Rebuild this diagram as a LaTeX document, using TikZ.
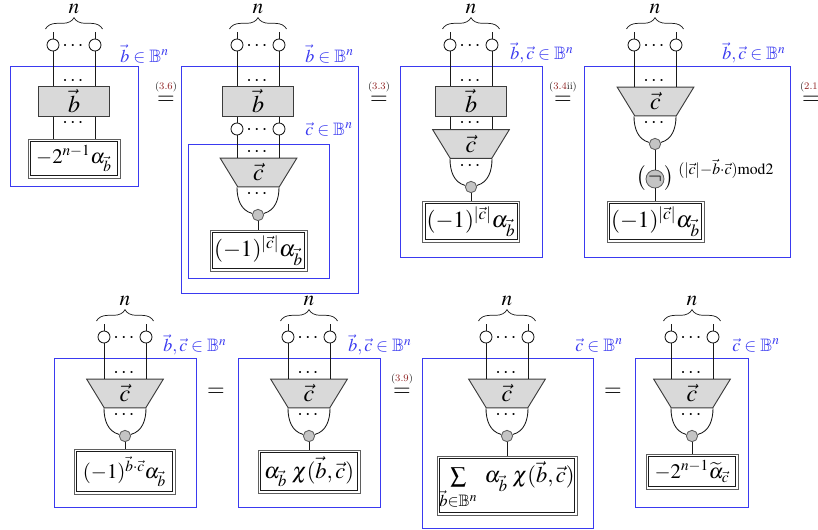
\documentclass[tikz,border=0pt]{standalone}
\usepackage{amsmath,amssymb}
\usepackage{mathptmx}
\usetikzlibrary{positioning, calc, shapes.geometric, decorations.pathreplacing}
\definecolor{c1}{HTML}{1A1A1A}
\definecolor{c2}{HTML}{3A3AF0}
\definecolor{c3}{HTML}{D9D9D9}
\definecolor{c4}{HTML}{C4C4C4}
\definecolor{c5}{HTML}{8E1F1F}

% top of a diagram: n, brace, two open dots with their free wires
\newcommand{\headrow}[3]{%
    \node[nlab] (#1n) at (#2, #3+8.5) {$n$};
    \draw[brc] (#2-28.5, #3+29) -- (#2+28.5, #3+29);
    \coordinate (#1s) at (#2-21, #3+32);
    \coordinate (#1t) at (#2+21, #3+32);
    \node[wht] (#1l) at (#2-21, #3+45) {};
    \node[wht] (#1r) at (#2+21, #3+45) {};
    \node[dts] (#1d) at (#2, #3+45) {$\cdots$};
    \draw[wire] (#1s) -- (#1l);
    \draw[wire] (#1t) -- (#1r);
}
% two wires joining in the grey dot, stem into the double box
\newcommand{\fanin}[3]{%
    \draw[wire] (#1l |- #2.south) to[out=-90, in=165] (#1g);
    \draw[wire] (#1r |- #2.south) to[out=-90, in=15] (#1g);
    \draw[wire] (#1g) -- (#1g |- #3.north);
}
% equals sign with a reference above it
\newcommand{\eqsign}[5]{%
    \node[eqs] (#1) at (#2, #3) {$=$};
    \node[eqlab] (#1r) at (#2, #3-13) {(\textcolor{c5}{#4}#5)};
}

\begin{document}
\begin{tikzpicture}[
    x=0.75pt, y=-0.75pt,
    every node/.style={font=\fontsize{15.5}{19}\selectfont},
    wire/.style={line width=0.65pt, color=c1},
    brc/.style={line width=0.55pt, color=c1, decorate, decoration={brace, amplitude=8.5pt}},
    nlab/.style={font=\fontsize{16}{19}\selectfont, inner sep=0pt},
    wht/.style={circle, draw=c1, fill=white, line width=0.65pt, minimum size=9pt, inner sep=0pt},
    gry/.style={circle, draw=c1!70, fill=c4, line width=0.65pt, minimum size=8.5pt, inner sep=0pt},
    dts/.style={inner sep=0pt, font=\fontsize{15}{17}\selectfont, yshift=-1pt},
    blu/.style={draw=c2, line width=0.7pt},
    set/.style={text=c2, inner sep=0pt, font=\fontsize{13.5}{16}\selectfont},
    blk/.style={rectangle, draw=c1!85, fill=c3, line width=0.8pt, minimum width=53pt, minimum height=23pt, inner sep=0pt,
        font=\fontsize{18}{21}\selectfont},
    trp/.style={trapezium, shape border rotate=180, trapezium stretches=true, trapezium left angle=75.5,
        trapezium right angle=75.5, draw=c1!85, fill=c3, line width=0.7pt,
        minimum width=57.5pt, minimum height=21.5pt, inner sep=0pt, font=\fontsize{18}{21}\selectfont},
    dbl/.style={rectangle, draw=c1!70, line width=0.7pt, fill=white, inner sep=0pt,
        path picture={\draw[line width=0.6pt, c1]
            ($(path picture bounding box.north west)+(1.9pt,-1.9pt)$) rectangle
            ($(path picture bounding box.south east)+(-1.9pt,1.9pt)$);}},
    big/.style={font=\fontsize{17.3}{21}\selectfont},
    mid/.style={font=\fontsize{16.8}{20}\selectfont},
    eqs/.style={inner sep=0pt, font=\fontsize{17}{20}\selectfont},
    eqlab/.style={inner sep=0pt, font=\fontsize{7.5}{9}\selectfont, text=c1},
]
\useasboundingbox (0,0) rectangle (818,529);

% ================================================================ first row
\draw[blu] (10.5,66) rectangle (138,186);
\headrow{a}{74}{0}
\node[blk] (ab) at (74,101.5) {$\vec{b}$};
\node[dbl, minimum width=69pt, minimum height=29.25pt] (ax) at (74,158.5) {$-2^{n-1}\alpha_{\vec{b}}$};
\node[dts] (ad1) at (74,80) {$\cdots$};
\node[dts] (ad2) at (74,122) {$\cdots$};
\foreach \s in {l,r}{
    \draw[wire] (a\s) -- (a\s |- ab.north);
    \draw[wire] (a\s |- ab.south) -- (a\s |- ax.north);
}
\node[set, anchor=west] (as) at (120,54) {$\vec{b}\in\mathbb{B}^{n}$};
\eqsign{e1}{166}{100}{3.6}{}

\draw[blu] (181,66) rectangle (358,293);
\draw[blu] (188,144) rectangle (329,278);
\headrow{b}{258}{0}
\node[blk] (bb) at (258,101.5) {$\vec{b}$};
\node[wht] (bl2) at (237,129) {};
\node[wht] (br2) at (279,129) {};
\node[dts] (bd2) at (258,129) {$\cdots$};
\node[trp] (bc) at (258.5,172.5) {$\vec{c}$};
\node[gry] (bg) at (258,215) {};
\node[dbl, big, minimum width=72.75pt, minimum height=30.75pt] (bx) at (258.5,250.5) {$(-1)^{|\vec{c}|}\alpha_{\vec{b}}$};
\node[dts] (bd1) at (258,80) {$\cdots$};
\node[dts] (bd3) at (258,151) {$\cdots$};
\node[dts] (bd4) at (258,193) {$\cdots$};
\foreach \s in {l,r}{
    \draw[wire] (b\s) -- (b\s |- bb.north);
    \draw[wire] (b\s |- bb.south) -- (b\s2);
    \draw[wire] (b\s2) -- (b\s2 |- bc.north);
}
\fanin{b}{bc}{bx}
\node[set, anchor=west] (bs1) at (305,54) {$\vec{b}\in\mathbb{B}^{n}$};
\node[set, anchor=west] (bs2) at (305,129) {$\vec{c}\in\mathbb{B}^{n}$};
\eqsign{e2}{379}{100}{3.3}{}

\draw[blu] (400,66) rectangle (542,257);
\headrow{c}{471}{0}
\node[blk] (cb) at (471,101.5) {$\vec{b}$};
\node[trp] (cc) at (471,144) {$\vec{c}$};
\node[gry] (cg) at (471,187) {};
\node[dbl, big, minimum width=72.75pt, minimum height=30.75pt] (cx) at (471,221.5) {$(-1)^{|\vec{c}|}\alpha_{\vec{b}}$};
\node[dts] (cd1) at (471,80) {$\cdots$};
\node[dts] (cd2) at (471,122) {$\cdots$};
\node[dts] (cd3) at (471,165) {$\cdots$};
\foreach \s in {l,r}{
    \draw[wire] (c\s) -- (c\s |- cb.north);
    \draw[wire] (c\s |- cb.south) -- (c\s |- cc.north);
}
\fanin{c}{cc}{cx}
\node[set, anchor=west] (cs) at (510,53) {$\vec{b},\vec{c}\in\mathbb{B}^{n}$};
\eqsign{e3}{563}{100}{3.4}{ii}

\draw[blu] (584,66) rectangle (790,257);
\headrow{d}{655}{0}
\node[trp] (dc) at (655.5,101.5) {$\vec{c}$};
\node[gry] (dg) at (655,144) {};
\node[gry, minimum size=13.5pt] (dm) at (655,179) {$\neg$};
\node[inner sep=0pt] (dp1) at (641,178) {$\big($};
\node[inner sep=0pt] (dp2) at (669,178) {$\big)$};
\node[inner sep=0pt, anchor=west, font=\fontsize{11.8}{14}\selectfont] (de) at (678,169) {$(|\vec{c}|{-}\vec{b}{\cdot}\vec{c})\mathrm{mod}2$};
\node[dbl, big, minimum width=72.75pt, minimum height=30.75pt] (dx) at (655.5,221.5) {$(-1)^{|\vec{c}|}\alpha_{\vec{b}}$};
\node[dts] (dd1) at (655,80) {$\cdots$};
\node[dts] (dd2) at (655,122) {$\cdots$};
\foreach \s in {l,r}{
    \draw[wire] (d\s) -- (d\s |- dc.north);
}
\fanin{d}{dc}{dm}
\draw[wire] (dm) -- (dm |- dx.north);
\node[set, anchor=west] (ds) at (722,53) {$\vec{b},\vec{c}\in\mathbb{B}^{n}$};
\eqsign{e4}{811}{100}{2.1}{}

% ================================================================ second row
\draw[blu] (54,358) rectangle (196,507);
\headrow{f}{125}{292}
\node[trp] (fc) at (125,393.5) {$\vec{c}$};
\node[gry] (fg) at (125,436) {};
\node[dbl, minimum width=75.75pt, minimum height=33.75pt] (fx) at (124.5,471.5) {$(-1)^{\vec{b}\cdot\vec{c}}\alpha_{\vec{b}}$};
\node[dts] (fd1) at (125,372) {$\cdots$};
\node[dts] (fd2) at (125,414) {$\cdots$};
\foreach \s in {l,r}{
    \draw[wire] (f\s) -- (f\s |- fc.north);
}
\fanin{f}{fc}{fx}
\node[set, anchor=west] (fs) at (163,345) {$\vec{b},\vec{c}\in\mathbb{B}^{n}$};
\node[eqs] (e5) at (216,392) {$=$};

\draw[blu] (238,358) rectangle (380,507);
\headrow{g}{309}{292}
\node[trp] (gc) at (309,393.5) {$\vec{c}$};
\node[gry] (gg) at (309,436) {};
\node[dbl, mid, minimum width=76.5pt, minimum height=32.25pt] (gx) at (309,471.5) {$\alpha_{\vec{b}}\;\chi(\vec{b},\vec{c})$};
\node[dts] (gd1) at (309,372) {$\cdots$};
\node[dts] (gd2) at (309,414) {$\cdots$};
\foreach \s in {l,r}{
    \draw[wire] (g\s) -- (g\s |- gc.north);
}
\fanin{g}{gc}{gx}
\node[set, anchor=west] (gs) at (348,345) {$\vec{b},\vec{c}\in\mathbb{B}^{n}$};
\eqsign{e6}{402}{392}{3.9}{}

\draw[blu] (422,358) rectangle (593,528);
\headrow{h}{507}{292}
\node[trp] (hc) at (507,393.5) {$\vec{c}$};
\node[gry] (hg) at (507,436) {};
\node[dbl, mid, minimum width=105pt, minimum height=44.25pt] (hx) at (507,485.5) {$\sum\limits_{\vec{b}\in\mathbb{B}^{n}}\;\alpha_{\vec{b}}\;\chi(\vec{b},\vec{c})$};
\node[dts] (hd1) at (507,372) {$\cdots$};
\node[dts] (hd2) at (507,414) {$\cdots$};
\foreach \s in {l,r}{
    \draw[wire] (h\s) -- (h\s |- hc.north);
}
\fanin{h}{hc}{hx}
\node[set, anchor=west] (hs) at (575,345) {$\vec{c}\in\mathbb{B}^{n}$};
\node[eqs] (e7) at (613,392) {$=$};

\draw[blu] (635,358) rectangle (748,507);
\headrow{i}{692}{292}
\node[trp] (ic) at (692,393.5) {$\vec{c}$};
\node[gry] (ig) at (692,436) {};
\node[dbl, minimum width=69pt, minimum height=26.25pt] (ix) at (692,471.5) {$-2^{n-1}\widetilde{\alpha}_{\vec{c}}$};
\node[dts] (id1) at (692,372) {$\cdots$};
\node[dts] (id2) at (692,414) {$\cdots$};
\foreach \s in {l,r}{
    \draw[wire] (i\s) -- (i\s |- ic.north);
}
\fanin{i}{ic}{ix}
\node[set, anchor=west] (is) at (732,345) {$\vec{c}\in\mathbb{B}^{n}$};

\end{tikzpicture}
\end{document}
